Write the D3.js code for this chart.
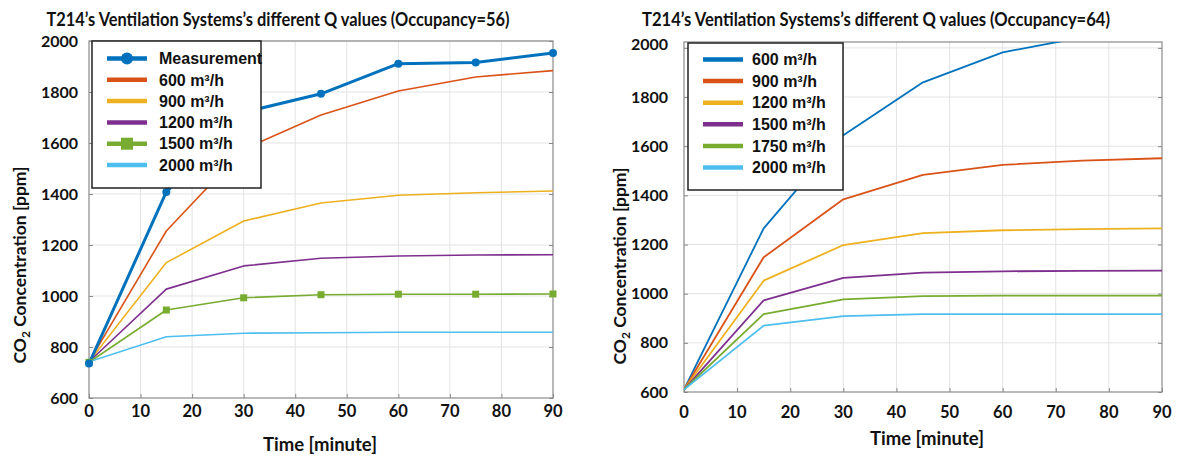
<!DOCTYPE html>
<html>
<head>
<meta charset="utf-8">
<script src="https://cdn.jsdelivr.net/npm/d3@7"></script>
<style>
	body { margin: 0; background: #fff; }
	text { fill: #111; }
	.tick text { font-family: Lato, "Open Sans", sans-serif; font-weight: bold; font-size: 16px; }
	.legtext { font-family: "Liberation Sans", Arial, sans-serif; font-weight: bold; font-size: 16px; }
	.ttl { font-family: Lato, "Open Sans", sans-serif; font-weight: bold; }
</style>
</head>
<body>
<svg id="chart" width="1182" height="457"></svg>
<script>

// Time steps and ticks.
const times = [0, 15, 30, 45, 60, 75, 90];
const xTicks = [0, 10, 20, 30, 40, 50, 60, 70, 80, 90];
const yTicks = [600, 800, 1000, 1200, 1400, 1600, 1800, 2000];

// Occupancy = 56 (measurement + simulated Q values)
const measured56 = [735, 1408, 1720, 1793, 1911, 1916, 1953];
const q600_56  = [742, 1255, 1576, 1710, 1804, 1859, 1884];
const q900_56  = [742, 1131, 1294, 1365, 1395, 1405, 1412];
const q1200_56 = [742, 1027, 1118, 1148, 1157, 1161, 1162];
const q1500_56 = [740, 945, 993, 1005, 1007, 1007, 1008];
const q2000_56 = [742, 840, 854, 856, 858, 858, 858];
const labels56 = ["Measurement", "600 m³/h", "900 m³/h", "1200 m³/h", "1500 m³/h", "2000 m³/h"];

// Occupancy = 64
const q600_64  = [610, 1266, 1645, 1860, 1982, 2043, 2075];
const q900_64  = [610, 1148, 1384, 1483, 1524, 1541, 1551];
const q1200_64 = [610, 1053, 1198, 1246, 1258, 1263, 1266];
const q1500_64 = [610, 973, 1064, 1086, 1091, 1093, 1094];
const q1750_64 = [610, 917, 977, 990, 992, 992, 992];
const q2000_64 = [610, 870, 909, 917, 917, 917, 917];
const labels64 = ["600 m³/h", "900 m³/h", "1200 m³/h", "1500 m³/h", "1750 m³/h", "2000 m³/h"];

// MATLAB-ish palette
const palette = ["#0072bd", "#d95319", "#edb120", "#7e2f8e", "#77ac30", "#4dbeee"];


const svg = d3.select("#chart");

const panels = [
	{
		id: "p56",
		title: "T214\u2019s Ventilation Systems\u2019s different Q values (Occupancy=56)",
		titleX: 278, titleW: 463,
		xr: [89, 553], yr: [398, 41], ymax: 2000, topShift: 0,
		tickPad: 11, xLabY: 417, xTitle: [320, 451], yTitle: [20, 265],
		series: [
			{ v: q600_56, c: palette[1], w: 1.6 },
			{ v: q900_56, c: palette[2], w: 1.6 },
			{ v: q1200_56, c: palette[3], w: 1.6 },
			{ v: q1500_56, c: palette[4], w: 1.6, marker: "square" },
			{ v: q2000_56, c: palette[5], w: 1.6 },
			{ v: measured56, c: palette[0], w: 3, marker: "circle" }
		],
		legend: { x: 92, y: 41, w: 169, h: 147, row0: 58.5, rowH: 21.3, l0: 107, l1: 147, tx: 159,
			items: labels56.map((d, i) => ({ label: d, c: palette[i], marker: i == 0 ? "circle" : (i == 4 ? "square" : null) })) }
	},
	{
		id: "p64",
		title: "T214\u2019s Ventilation Systems\u2019s different Q values (Occupancy=64)",
		titleX: 876, titleW: 468,
		xr: [684, 1162], yr: [392, 42], ymax: 2024, topShift: -4,
		tickPad: 16, xLabY: 418, xTitle: [927, 445], yTitle: [620, 266],
		series: [q600_64, q900_64, q1200_64, q1500_64, q1750_64, q2000_64]
			.map((v, i) => ({ v: v, c: palette[i], w: 1.8 })),
		legend: { x: 688, y: 43, w: 155, h: 147, row0: 59.5, rowH: 21.6, l0: 703, l1: 743, tx: 752,
			items: labels64.map((d, i) => ({ label: d, c: palette[i], marker: null })) }
	}
];

panels.forEach(function(p) {

	let x = d3.scaleLinear().domain([0, 90]).range(p.xr);
	let y = d3.scaleLinear().domain([600, p.ymax]).range(p.yr);
	let g = svg.append("g");

	// Grid
	g.append("g").selectAll("line").data(xTicks.slice(1, -1)).join("line")
		.attr("x1", d => x(d)).attr("x2", d => x(d))
		.attr("y1", p.yr[0]).attr("y2", p.yr[1])
		.attr("stroke", "#e3e3e3").attr("stroke-width", 1);
	g.append("g").selectAll("line").data(yTicks.slice(1)).join("line")
		.attr("x1", p.xr[0]).attr("x2", p.xr[1])
		.attr("y1", d => y(d)).attr("y2", d => y(d))
		.attr("stroke", "#e3e3e3").attr("stroke-width", 1);

	// Axes (inward ticks)
	let yAx = g.append("g").attr("transform", "translate(" + p.xr[0] + ",0)")
		.call(d3.axisLeft(y).tickValues(yTicks).tickSize(-4).tickPadding(p.tickPad).tickFormat(d3.format("d")));
	yAx.selectAll(".tick").filter(d => d == 2000).select("text").attr("dy", p.topShift + 5.5);
	let yAxR = g.append("g").attr("transform", "translate(" + p.xr[1] + ",0)")
		.call(d3.axisRight(y).tickValues(yTicks).tickSize(-4).tickFormat(""));
	let xAx = g.append("g").attr("transform", "translate(0," + p.yr[0] + ")")
		.call(d3.axisBottom(x).tickValues(xTicks).tickSize(-4).tickFormat(""));
	[yAx, yAxR, xAx].forEach(a => {
		a.select(".domain").remove();
		a.selectAll(".tick line").attr("stroke", "#888");
	});
	g.append("g").selectAll("text").data(xTicks).join("text")
		.attr("class", "ttl")
		.attr("x", d => x(d)).attr("y", p.xLabY)
		.attr("text-anchor", "middle")
		.style("font-size", "16.5px")
		.text(d => d);

	// Frame
	g.append("rect")
		.attr("x", p.xr[0]).attr("y", p.yr[1])
		.attr("width", p.xr[1] - p.xr[0]).attr("height", p.yr[0] - p.yr[1])
		.attr("fill", "none").attr("stroke", "#8a8a8a").attr("stroke-width", 1.2);

	// Lines
	g.append("clipPath").attr("id", "clip" + p.id).append("rect")
		.attr("x", p.xr[0]).attr("y", p.yr[1])
		.attr("width", p.xr[1] - p.xr[0]).attr("height", p.yr[0] - p.yr[1]);
	let plot = g.append("g").attr("clip-path", "url(#clip" + p.id + ")");
	let line = d3.line().x((d, i) => x(times[i])).y(d => y(d));
	p.series.forEach(function(s) {
		plot.append("path")
			.datum(s.v)
			.attr("d", line)
			.attr("fill", "none")
			.attr("stroke", s.c)
			.attr("stroke-width", s.w)
			.attr("stroke-linejoin", "round");
		if (s.marker == "circle") {
			g.append("g").selectAll("circle").data(s.v).join("circle")
				.attr("cx", (d, i) => x(times[i])).attr("cy", d => y(d))
				.attr("r", 4).attr("fill", s.c);
		} else if (s.marker == "square") {
			g.append("g").selectAll("rect").data(s.v).join("rect")
				.attr("x", (d, i) => x(times[i]) - 3.5).attr("y", d => y(d) - 3.5)
				.attr("width", 7).attr("height", 7).attr("fill", s.c);
		}
	});

	// Legend
	let L = p.legend;
	let leg = g.append("g");
	leg.append("rect")
		.attr("x", L.x).attr("y", L.y).attr("width", L.w).attr("height", L.h)
		.attr("fill", "#fff").attr("stroke", "#222").attr("stroke-width", 1.5);
	L.items.forEach(function(it, i) {
		let ly = L.row0 + i * L.rowH;
		leg.append("line")
			.attr("x1", L.l0).attr("x2", L.l1).attr("y1", ly).attr("y2", ly)
			.attr("stroke", it.c).attr("stroke-width", 4.5);
		if (it.marker == "circle") {
			leg.append("circle").attr("cx", (L.l0 + L.l1) / 2).attr("cy", ly)
				.attr("r", 6).attr("fill", it.c);
		} else if (it.marker == "square") {
			leg.append("rect").attr("x", (L.l0 + L.l1) / 2 - 6).attr("y", ly - 6)
				.attr("width", 12).attr("height", 12).attr("fill", it.c);
		}
		leg.append("text")
			.attr("class", "legtext")
			.attr("x", L.tx).attr("y", ly).attr("dy", "0.36em")
			.text(it.label);
	});

	// Titles
	g.append("text")
		.attr("class", "ttl")
		.attr("x", p.titleX).attr("y", 26)
		.attr("text-anchor", "middle")
		.attr("textLength", p.titleW)
		.attr("lengthAdjust", "spacingAndGlyphs")
		.style("font-size", "19px")
		.text(p.title);
	g.append("text")
		.attr("class", "ttl")
		.attr("x", p.xTitle[0]).attr("y", p.xTitle[1])
		.attr("text-anchor", "middle")
		.attr("textLength", 114)
		.attr("lengthAdjust", "spacingAndGlyphs")
		.style("font-size", "18px")
		.text("Time [minute]");
	let yt = g.append("text")
		.attr("class", "ttl")
		.attr("transform", "translate(" + (p.yTitle[0] + 6) + "," + p.yTitle[1] + ") rotate(-90)")
		.attr("text-anchor", "middle")
		.style("font-size", "17.5px");
	yt.append("tspan").text("CO");
	yt.append("tspan").attr("dy", 4).style("font-size", "12px").text("2");
	yt.append("tspan").attr("dy", -4).text(" Concentration [ppm]");
});

</script>
</body>
</html>
